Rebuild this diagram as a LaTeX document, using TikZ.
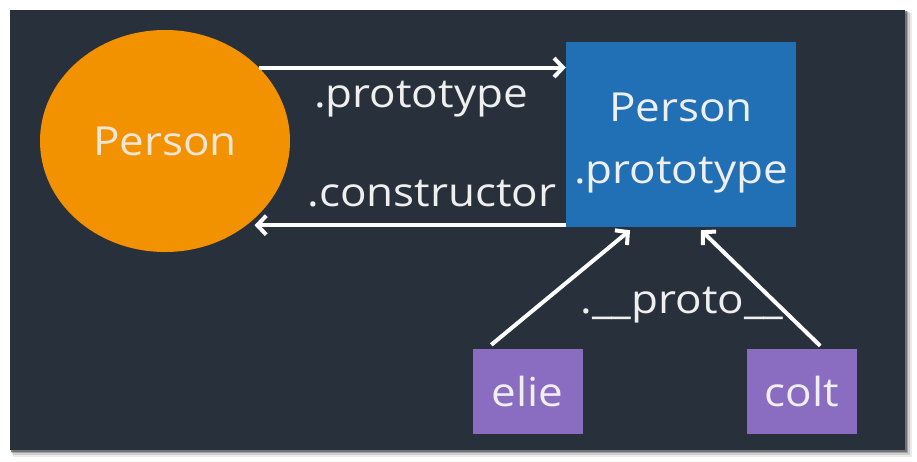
\documentclass[tikz,border=0pt]{standalone}
\usepackage{fontspec}
\setmainfont[FakeStretch=1.1]{Open Sans}
\usetikzlibrary{arrows.meta,shapes.geometric}
\definecolor{panel}{HTML}{27303B}
\definecolor{personorange}{HTML}{F39200}
\definecolor{protoblue}{HTML}{2170B5}
\definecolor{objpurple}{HTML}{8A6DC1}
\definecolor{txt}{HTML}{EFEFEF}

\begin{document}
\begin{tikzpicture}[x=1pt,y=-1pt,
	block/.style={rectangle, fill=protoblue, text=txt, align=center, inner sep=0pt, minimum width=230pt, minimum height=185pt, font=\fontsize{40}{62}\selectfont},
	obj/.style={rectangle, fill=objpurple, text=txt, inner sep=0pt, minimum width=110pt, minimum height=85pt, font=\fontsize{40}{48}\selectfont},
	lbl/.style={text=txt, inner sep=0pt, anchor=base, font=\fontsize{40}{48}\selectfont},
	arr/.style={draw=white, line width=4pt, -{Straight Barb[length=9pt,width=19pt]}}]
		\useasboundingbox (0,0) rectangle (917,461);
		\fill[white] (0,0) rectangle (917,461);
		% shadow and panel
		\foreach \s/\o in {7/0.08,5/0.12,3/0.2,1.5/0.3}
			\fill[black, opacity=\o] (10+\s*0.4,10+\s*0.4) rectangle (905+\s,450+\s);
		\fill[panel] (10,10) rectangle (905,450);
		\node[ellipse, fill=personorange, text=txt!90!personorange, inner sep=0pt, minimum width=250pt, minimum height=222pt, font=\fontsize{40}{48}\selectfont] (person) at (165,141) {Person};
		\node[block] (proto) at (681,134.5) {\rule{0pt}{45pt}Person\\.prototype};
		\node[obj] (elie) at (527.5,391.5) {elie};
		\node[obj] (colt) at (802,391.5) {colt};
		\node[lbl] (ptext) at (421,107) {.prototype};
		\node[lbl] (ctext) at (432,206) {.constructor};
		\node[lbl] (ltext) at (682,313) {.\_\_proto\_\_};
		\draw[arr] (person.38) -- (proto.west |- person.38);
		\draw[arr, shorten >=8pt] ([yshift=2pt]proto.south west) -- ([yshift=2pt]person.-46 |- proto.south west);
		\draw[arr] ([xshift=19pt,yshift=4pt]elie.north west) -- ([xshift=-51pt,yshift=-3pt]proto.south);
		\draw[arr] ([xshift=-37pt,yshift=3pt]colt.north east) -- ([xshift=20pt,yshift=-3pt]proto.south);
	\end{tikzpicture}
\end{document}
